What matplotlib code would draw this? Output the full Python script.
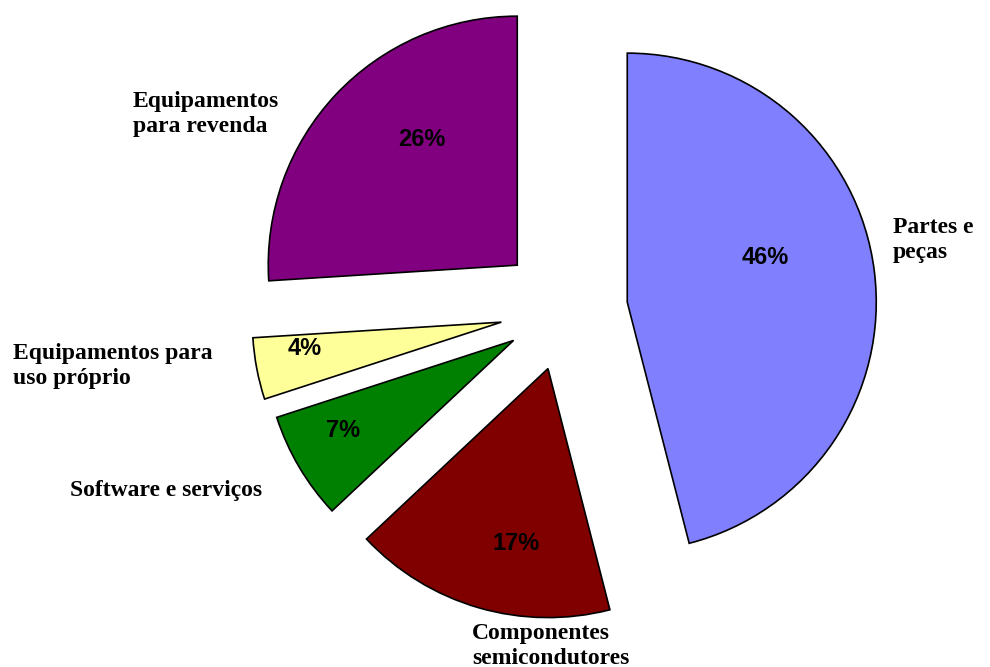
import matplotlib
matplotlib.use("Agg")
import matplotlib.pyplot as plt

# Share of purchases by category (%)
categories = ["Partes e\npeças", "Componentes\nsemicondutores", "Software e serviços",
              "Equipamentos para\nuso próprio", "Equipamentos\npara revenda"]
values = [46, 17, 7, 4, 26]
colors = ["#8080FF", "#800000", "#008000", "#FFFF99", "#800080"]
explode = [0.252, 0.245, 0.24, 0.26, 0.263]

# Text placement (data units, pie radius = 1)
cat_pos = [(1.317, 0.281), (-0.373, -1.349), (-1.988, -0.723), (-2.217, -0.225), (-1.735, 0.787)]
pct_pos = [(0.803, 0.209), (-0.197, -0.936), (-0.892, -0.482), (-1.044, -0.153), (-0.574, 0.683)]

fig = plt.figure(figsize=(9.9, 6.67), dpi=100)
ax = fig.add_axes([0, 0, 1, 1])

ax.pie(values, explode=explode, colors=colors, startangle=90, counterclock=False,
       radius=1.0, wedgeprops=dict(edgecolor="black", linewidth=1.2))

for (x, y), v in zip(pct_pos, values):
    ax.text(x, y, f"{v}%", ha="center", va="center", fontsize=17,
            fontweight="bold", family="Liberation Sans", color="black")

for (x, y), name in zip(cat_pos, categories):
    ax.text(x, y, name, ha="left", va="center", fontsize=17,
            fontweight="bold", family="Liberation Serif", color="black",
            linespacing=1.22)

ax.set_xlim(-565 / 249, (990 - 565) / 249)
ax.set_ylim((310 - 667) / 249, 310 / 249)
ax.set_aspect("equal")
ax.axis("off")

fig.savefig("out.png", dpi=100, facecolor="white")
